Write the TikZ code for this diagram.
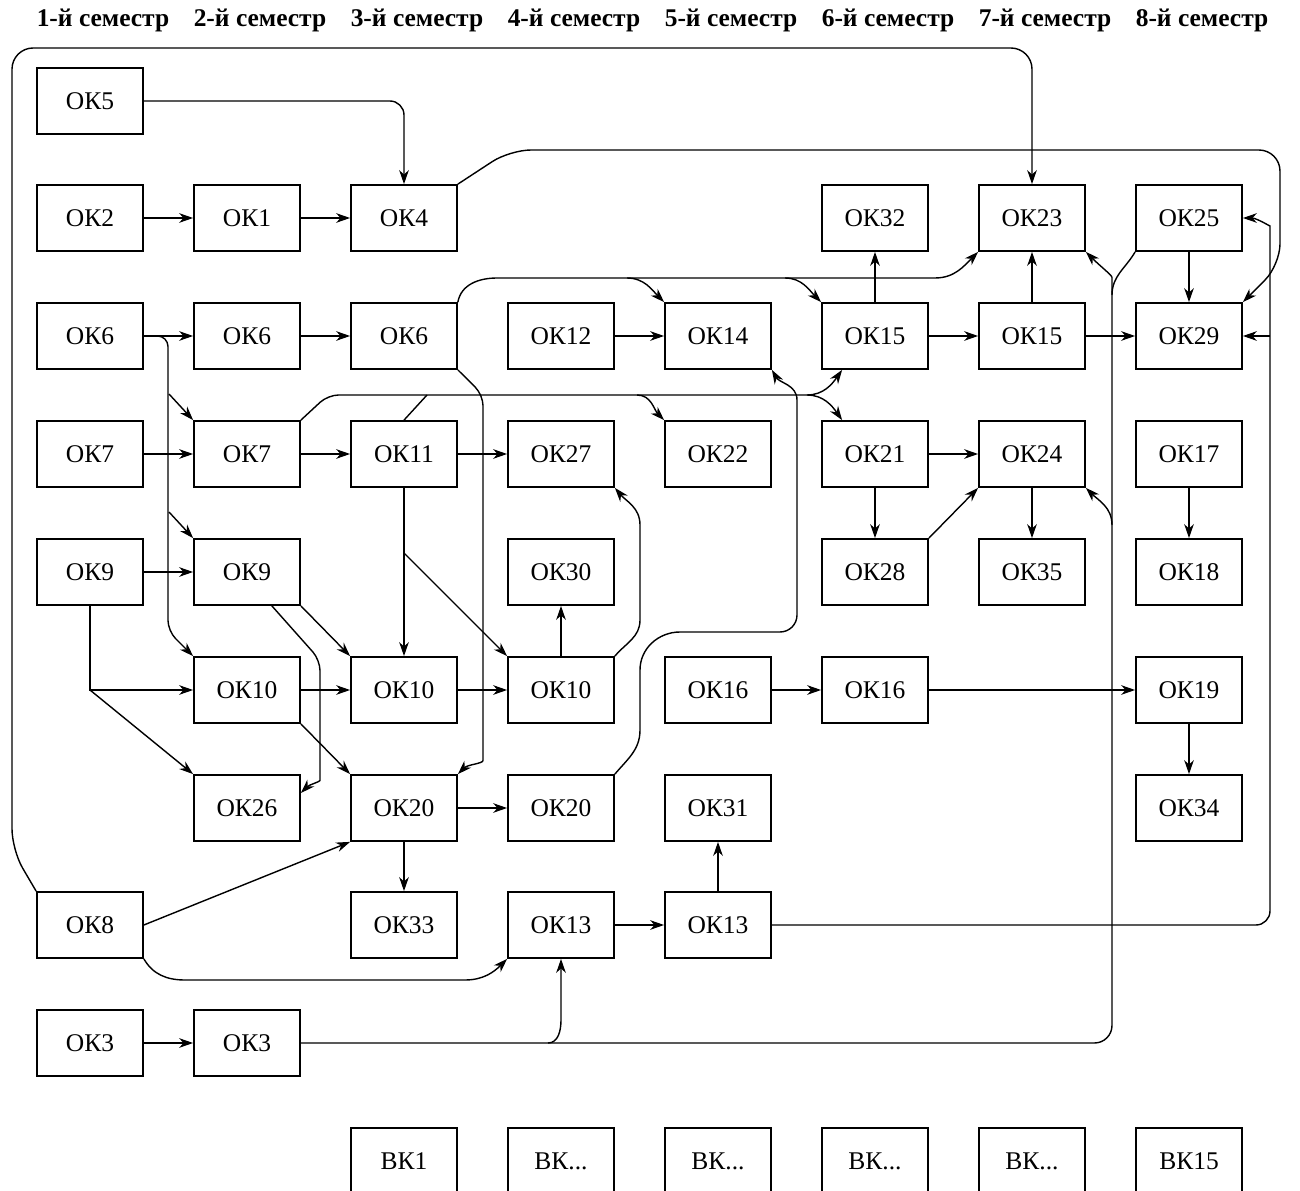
\documentclass[tikz,border=0pt]{standalone}
\usepackage{fontspec}
\setmainfont{Liberation Serif}
\usetikzlibrary{arrows.meta,positioning}

\begin{document}
\begin{tikzpicture}[>={Stealth[length=8pt,width=5.5pt]},
	okbox/.style={draw, line width=1pt, minimum width=2.12cm, minimum height=1.32cm, inner sep=0pt, font=\fontsize{14.5}{17}\selectfont},
	sem/.style={font=\fontsize{14.5}{17}\selectfont\bfseries},
	conn/.style={line width=0.8pt}]
	\useasboundingbox (0,0) rectangle (26,-23.82);

	% semesters
	\node (hdr1) at (2.06,-0.4) [sem] {1-й семестр};
	\node (hdr2) at (5.20,-0.4) [sem] {2-й семестр};
	\node (hdr3) at (8.34,-0.4) [sem] {3-й семестр};
	\node (hdr4) at (11.48,-0.4) [sem] {4-й семестр};
	\node (hdr5) at (14.62,-0.4) [sem] {5-й семестр};
	\node (hdr6) at (17.76,-0.4) [sem] {6-й семестр};
	\node (hdr7) at (20.90,-0.4) [sem] {7-й семестр};
	\node (hdr8) at (24.04,-0.4) [sem] {8-й семестр};

	% components
	\node (s1ok5) at (1.8,-2.02) [okbox] {ОК5};

	\node (s1ok2) at (1.8,-4.36) [okbox] {ОК2};
	\node (s2ok1) at (4.94,-4.36) [okbox] {ОК1};
	\node (s3ok4) at (8.08,-4.36) [okbox] {ОК4};
	\node (s6ok32) at (17.5,-4.36) [okbox] {ОК32};
	\node (s7ok23) at (20.64,-4.36) [okbox] {ОК23};
	\node (s8ok25) at (23.78,-4.36) [okbox] {ОК25};

	\node (s1ok6) at (1.8,-6.72) [okbox] {ОК6};
	\node (s2ok6) at (4.94,-6.72) [okbox] {ОК6};
	\node (s3ok6) at (8.08,-6.72) [okbox] {ОК6};
	\node (s4ok12) at (11.22,-6.72) [okbox] {ОК12};
	\node (s5ok14) at (14.36,-6.72) [okbox] {ОК14};
	\node (s6ok15) at (17.5,-6.72) [okbox] {ОК15};
	\node (s7ok15) at (20.64,-6.72) [okbox] {ОК15};
	\node (s8ok29) at (23.78,-6.72) [okbox] {ОК29};

	\node (s1ok7) at (1.8,-9.08) [okbox] {ОК7};
	\node (s2ok7) at (4.94,-9.08) [okbox] {ОК7};
	\node (s3ok11) at (8.08,-9.08) [okbox] {ОК11};
	\node (s4ok27) at (11.22,-9.08) [okbox] {ОК27};
	\node (s5ok22) at (14.36,-9.08) [okbox] {ОК22};
	\node (s6ok21) at (17.5,-9.08) [okbox] {ОК21};
	\node (s7ok24) at (20.64,-9.08) [okbox] {ОК24};
	\node (s8ok17) at (23.78,-9.08) [okbox] {ОК17};

	\node (s1ok9) at (1.8,-11.44) [okbox] {ОК9};
	\node (s2ok9) at (4.94,-11.44) [okbox] {ОК9};
	\node (s4ok30) at (11.22,-11.44) [okbox] {ОК30};
	\node (s6ok28) at (17.5,-11.44) [okbox] {ОК28};
	\node (s7ok35) at (20.64,-11.44) [okbox] {ОК35};
	\node (s8ok18) at (23.78,-11.44) [okbox] {ОК18};

	\node (s2ok10) at (4.94,-13.8) [okbox] {ОК10};
	\node (s3ok10) at (8.08,-13.8) [okbox] {ОК10};
	\node (s4ok10) at (11.22,-13.8) [okbox] {ОК10};
	\node (s5ok16) at (14.36,-13.8) [okbox] {ОК16};
	\node (s6ok16) at (17.5,-13.8) [okbox] {ОК16};
	\node (s8ok19) at (23.78,-13.8) [okbox] {ОК19};

	\node (s2ok26) at (4.94,-16.16) [okbox] {ОК26};
	\node (s3ok20) at (8.08,-16.16) [okbox] {ОК20};
	\node (s4ok20) at (11.22,-16.16) [okbox] {ОК20};
	\node (s5ok31) at (14.36,-16.16) [okbox] {ОК31};
	\node (s8ok34) at (23.78,-16.16) [okbox] {ОК34};

	\node (s1ok8) at (1.8,-18.5) [okbox] {ОК8};
	\node (s3ok33) at (8.08,-18.5) [okbox] {ОК33};
	\node (s4ok13) at (11.22,-18.5) [okbox] {ОК13};
	\node (s5ok13) at (14.36,-18.5) [okbox] {ОК13};

	\node (s1ok3) at (1.8,-20.86) [okbox] {ОК3};
	\node (s2ok3) at (4.94,-20.86) [okbox] {ОК3};

	\node (s3bk1) at (8.08,-23.22) [okbox] {ВК1};
	\node (s4bk) at (11.22,-23.22) [okbox] {ВК...};
	\node (s5bk) at (14.36,-23.22) [okbox] {ВК...};
	\node (s6bk) at (17.5,-23.22) [okbox] {ВК...};
	\node (s7bk) at (20.64,-23.22) [okbox] {ВК...};
	\node (s8bk15) at (23.78,-23.22) [okbox] {ВК15};

	% junctions
	\coordinate (j6a) at (3.38,-7.88);
	\coordinate (j6b) at (3.38,-10.24);
	\coordinate (j14) at (12.54,-5.56);
	\coordinate (j15) at (15.7,-5.56);
	\coordinate (j11) at (8.54,-7.9);
	\coordinate (j22) at (12.74,-7.9);
	\coordinate (j21) at (16.14,-7.9);
	\coordinate (j10) at (8.08,-11.06);
	\coordinate (j9) at (1.8,-13.8);
	\coordinate (j13) at (10.96,-20.86);
	\coordinate (j23) at (22.24,-5.9);
	\coordinate (j24) at (22.24,-10.5);
	\coordinate (j29) at (25.4,-6.72);

	% top rows
	\draw [conn, ->] (s1ok2) -- (s2ok1);
	\draw [conn, ->] (s2ok1) -- (s3ok4);
	\draw [conn, ->, rounded corners=8pt] (s1ok5.east) -| (s3ok4.north);
	\draw [conn, ->, rounded corners=12pt] (s3ok4.north east) -- (10.2,-3.0) -- (25.6,-3.0) -- (25.6,-5.3) -- (s8ok29.north east);
	\draw [conn, ->, rounded corners=12pt] (s1ok8.north west) -- (0.24,-17.0) -- (0.24,-0.96) -- (20.64,-0.96) -- (s7ok23.north);

	% OK6
	\draw [conn, ->] (s1ok6) -- (s2ok6);
	\draw [conn, ->] (s2ok6) -- (s3ok6);
	\draw [conn, ->, rounded corners=6pt] (s1ok6.east) -- (3.36,-6.72) -- (3.36,-12.62) -- (s2ok10.north west);
	\draw [conn, ->] (j6a) -- (s2ok7.north west);
	\draw [conn, ->] (j6b) -- (s2ok9.north west);
	\draw [conn, ->] (s3ok6.north east) to[out=80,in=180] (9.94,-5.56) -- (18.7,-5.56) to[out=0,in=225] (s7ok23.south west);
	\draw [conn, ->] (j14) to[out=0,in=135] (s5ok14.north west);
	\draw [conn, ->] (j15) to[out=0,in=135] (s6ok15.north west);
	\draw [conn, ->, rounded corners=6pt] (s3ok6.south east) -- (9.66,-7.9) -- (9.66,-15.0) to[out=-90,in=45] (s3ok20.north east);
	\draw [conn, ->] (s4ok12) -- (s5ok14);

	% OK7, OK11
	\draw [conn, ->] (s1ok7) -- (s2ok7);
	\draw [conn, ->] (s2ok7) -- (s3ok11);
	\draw [conn, ->] (s3ok11) -- (s4ok27);
	\draw [conn, rounded corners=6pt] (s2ok7.north east) -- (6.56,-7.9) -- (j21);
	\draw [conn] (s3ok11.north) -- (j11);
	\draw [conn, ->] (j22) to[out=0,in=135] (s5ok22.north west);
	\draw [conn, ->] (j21) to[out=0,in=235] ([xshift=0.42cm]s6ok15.south west);
	\draw [conn, ->] (j21) to[out=0,in=125] ([xshift=0.42cm]s6ok21.north west);
	\draw [conn, ->] (s3ok11) -- (s3ok10);
	\draw [conn, ->] (j10) -- (s4ok10.north west);

	% OK9, OK10
	\draw [conn, ->] (s1ok9) -- (s2ok9);
	\draw [conn, ->] (s1ok9.south) -- (j9) -- (s2ok10.west);
	\draw [conn, ->] (j9) -- (s2ok26.north west);
	\draw [conn, ->] (s2ok9.south east) -- (s3ok10.north west);
	\draw [conn, ->, rounded corners=6pt] ([xshift=-0.58cm]s2ok9.south east) -- (6.4,-13.2) -- (6.4,-15.4) to[out=-90,in=45] ([yshift=0.3cm]s2ok26.east);
	\draw [conn, ->] (s2ok10) -- (s3ok10);
	\draw [conn, ->] (s3ok10) -- (s4ok10);
	\draw [conn, ->] (s2ok10.south east) -- (s3ok20.north west);
	\draw [conn, ->] (s4ok10) -- (s4ok30);
	\draw [conn, ->] (s4ok10.north east) to[out=50,in=-90] (12.8,-12.4) -- (12.8,-10.5) to[out=90,in=-50] (s4ok27.south east);

	% OK20, OK8
	\draw [conn, ->] (s3ok20) -- (s4ok20);
	\draw [conn, ->] (s3ok20) -- (s3ok33);
	\draw [conn, ->] (s1ok8.east) -- (s3ok20.south west);
	\draw [conn, ->] (s1ok8.south east) to[out=-60,in=180] (3.7,-19.6) -- (9.3,-19.6) to[out=0,in=225] (s4ok13.south west);
	\draw [conn, ->] (s4ok20.north east) to[out=50,in=-90] (12.8,-14.6) -- (12.8,-13.4) to[out=90,in=180] (13.6,-12.64) -- (15.6,-12.64) to[out=0,in=-90] (15.94,-12.3) -- (15.94,-8.0) to[out=90,in=-60] (s5ok14.south east);

	% OK13, OK3
	\draw [conn, ->] (s4ok13) -- (s5ok13);
	\draw [conn, ->] (s5ok13) -- (s5ok31);
	\draw [conn, ->] (s1ok3) -- (s2ok3);
	\draw [conn, ->, rounded corners=10pt] (s2ok3.east) -- (22.24,-20.86) -- (j23) to[out=90,in=-45] (s7ok23.south east);
	\draw [conn, ->] (j13) to[out=0,in=-90] (11.22,-20.4) -- (s4ok13.south);
	\draw [conn, ->] (j24) to[out=90,in=-45] (s7ok24.south east);
	\draw [conn] (s8ok25.south west) to[out=-120,in=90] (j23);
	\draw [conn, ->, rounded corners=8pt] (s5ok13.east) -- (25.4,-18.5) -- (25.4,-4.8) to[out=90,in=0] (s8ok25.east);
	\draw [conn, ->] (j29) -- (s8ok29.east);

	% right side
	\draw [conn, ->] (s6ok15) -- (s7ok15);
	\draw [conn, ->] (s7ok15) -- (s8ok29);
	\draw [conn, ->] (s6ok15) -- (s6ok32);
	\draw [conn, ->] (s7ok15) -- (s7ok23);
	\draw [conn, ->] (s8ok25) -- (s8ok29);
	\draw [conn, ->] (s6ok21) -- (s7ok24);
	\draw [conn, ->] (s6ok21) -- (s6ok28);
	\draw [conn, ->] (s6ok28.north east) -- (s7ok24.south west);
	\draw [conn, ->] (s7ok24) -- (s7ok35);
	\draw [conn, ->] (s8ok17) -- (s8ok18);
	\draw [conn, ->] (s5ok16) -- (s6ok16);
	\draw [conn, ->] (s6ok16) -- (s8ok19);
	\draw [conn, ->] (s8ok19) -- (s8ok34);
\end{tikzpicture}
\end{document}
